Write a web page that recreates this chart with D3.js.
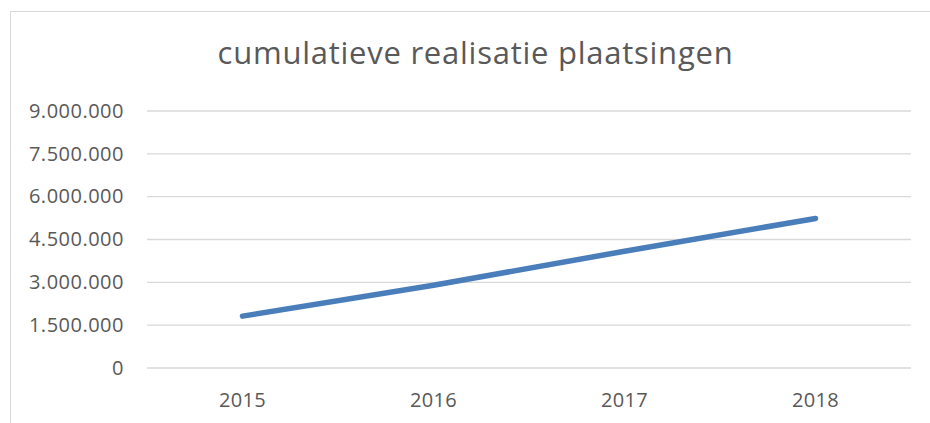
<!DOCTYPE html>
<html><head><meta charset="utf-8">
<script src="https://cdn.jsdelivr.net/npm/d3@7"></script>
<style>html,body{margin:0;padding:0;background:#fff;overflow:hidden;}svg{display:block;}</style>
</head><body>
<script>
const title = "cumulatieve realisatie plaatsingen";
const years = ["2015", "2016", "2017", "2018"];
const values = [1800000, 2880000, 4070000, 5220000];
const yTicks = [0, 1500000, 3000000, 4500000, 6000000, 7500000, 9000000];

const W = 930, H = 423;
const svg = d3.select("body").append("svg").attr("width", W).attr("height", H);

// chart area border
svg.append("rect").attr("x", 10.5).attr("y", 11.5).attr("width", 940).attr("height", 430)
  .attr("fill", "#fff").attr("stroke", "#d9d9d9").attr("stroke-width", 1);

const pLeft = 147, pRight = 911, pTop = 110.5, pBottom = 367.5;
const x = d3.scaleBand().domain(years).range([pLeft, pRight]);
const y = d3.scaleLinear().domain([0, 9000000]).range([pBottom, pTop]);

const fmt = v => d3.format(",")(v).replace(/,/g, ".");

// gridlines + y labels
const yAxis = d3.axisLeft(y).tickValues(yTicks).tickSize(-(pRight - pLeft)).tickFormat(fmt).tickPadding(23);
const gy = svg.append("g").attr("transform", `translate(${pLeft},0)`).call(yAxis);
gy.select(".domain").remove();
gy.selectAll(".tick line").attr("stroke", "#d9d9d9").attr("stroke-width", 1.3);
gy.selectAll(".tick text").attr("fill", "#595959").attr("font-family", "'Open Sans', sans-serif")
  .attr("font-size", 20).attr("letter-spacing", 0.5).attr("dy", "0.34em");

// x axis labels
const xAxis = d3.axisBottom(x).tickSize(0).tickPadding(0);
const gx = svg.append("g").attr("transform", `translate(0,${pBottom})`).call(xAxis);
gx.select(".domain").remove();
gx.selectAll(".tick text").attr("fill", "#595959").attr("font-family", "'Open Sans', sans-serif")
  .attr("font-size", 20).attr("letter-spacing", 0.3).attr("y", 39).attr("dy", 0);

// line
const line = d3.line().x((d, i) => x(years[i]) + x.bandwidth() / 2).y(d => y(d));
svg.append("path").datum(values).attr("d", line).attr("fill", "none")
  .attr("stroke", "#4a7ebb").attr("stroke-width", 5.5).attr("stroke-linecap", "round").attr("stroke-linejoin", "round");

// title
svg.append("text").attr("x", 475.5).attr("y", 64).attr("text-anchor", "middle")
  .attr("fill", "#595959").attr("font-family", "'Open Sans', sans-serif").attr("font-size", 31)
  .attr("letter-spacing", 0.75)
  .text(title);
</script>
</body></html>
